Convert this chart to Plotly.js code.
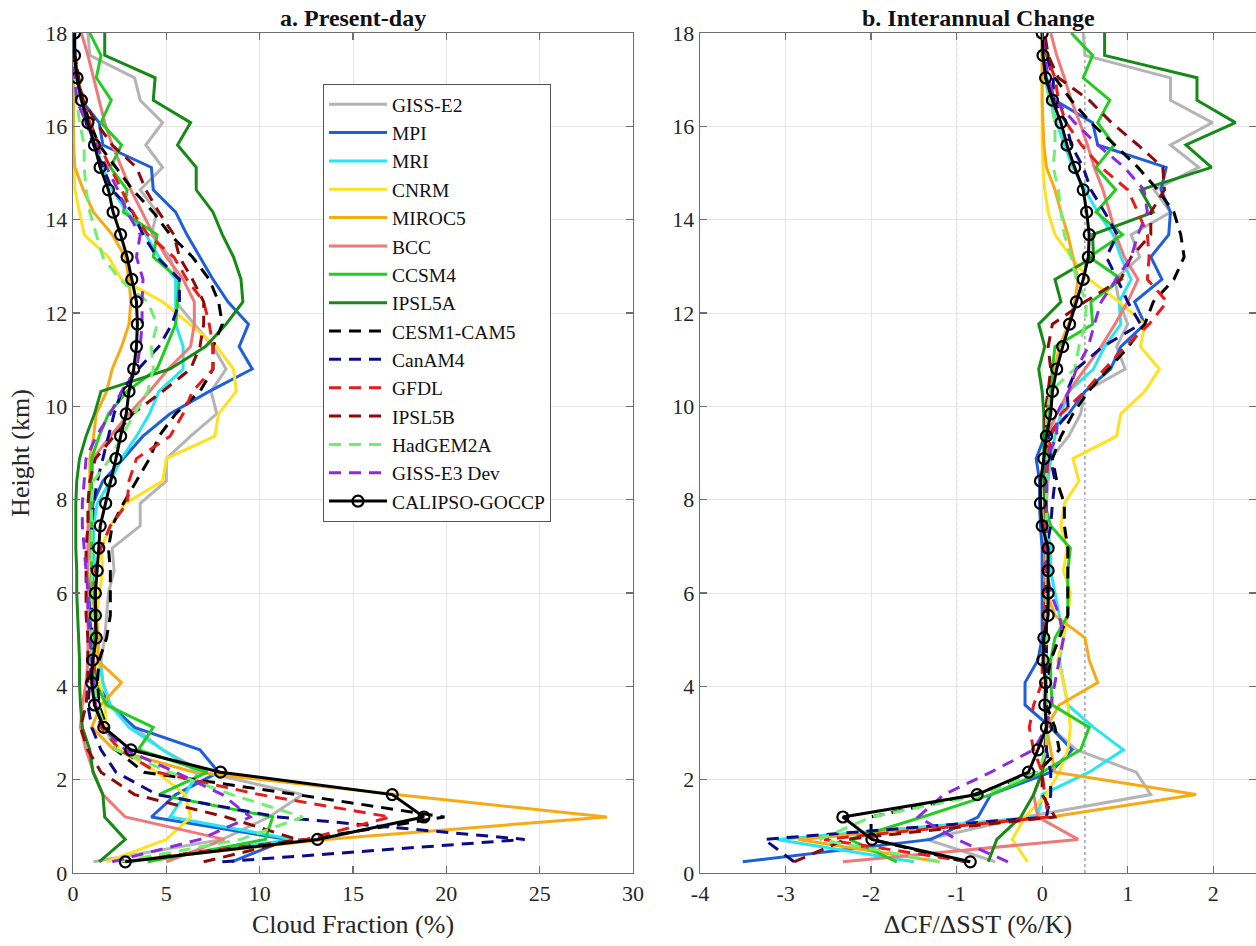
<!DOCTYPE html>
<html>
<head>
<meta charset="utf-8">
<script src="https://cdn.plot.ly/plotly-3.0.1.min.js"></script>
<style>
html,body{margin:0;padding:0;background:#fff;}
#chart{width:1256px;height:946px;}
</style>
</head>
<body>
<div id="chart"></div>
<script>
// ---------------- DATA ----------------
const heightKm = [0.24,0.72,1.2,1.68,2.16,2.64,3.12,3.6,4.08,4.56,5.04,5.52,6.0,6.48,6.96,7.44,7.92,8.4,8.88,9.36,9.84,10.32,10.8,11.28,11.76,12.24,12.72,13.2,13.68,14.16,14.64,15.12,15.6,16.08,16.56,17.04,17.52,18.0];

const seriesNames = ["GISS-E2","MPI","MRI","CNRM","MIROC5","BCC","CCSM4","IPSL5A","CESM1-CAM5","CanAM4","GFDL","IPSL5B","HadGEM2A","GISS-E3 Dev","CALIPSO-GOCCP"];

// tick values / labels
const yTickVals = [0,2,4,6,8,10,12,14,16,18];
const yTickText = ["0","2","4","6","8","10","12","14","16","18"];
const xaTickVals = [0,5,10,15,20,25,30];
const xaTickText = ["0","5","10","15","20","25","30"];
const xbTickVals = [-4,-3,-2,-1,0,1,2];
const xbTickText = ["-4","-3","-2","-1","0","1","2"];

// Panel a: cloud fraction (%)
const cfGISSE2  = [1.1,8.0,10.5,12.3,7.0,4.8,3.3,2.0,1.6,1.5,1.7,1.8,1.9,2.2,2.1,3.6,3.6,5.0,5.0,6.3,7.7,7.4,8.2,7.5,6.5,5.5,5.6,5.2,4.2,4.5,3.6,4.8,3.9,4.8,3.6,3.3,0.9,0.8];
const cfMPI     = [8.5,11.5,4.2,5.5,7.8,6.8,3.3,2.0,1.25,1.1,1.0,0.9,0.9,1.0,1.0,1.0,1.07,1.6,2.7,3.75,5.2,7.3,9.6,8.9,9.4,8.3,7.5,6.8,6.1,5.5,4.3,4.2,1.6,1.4,0.45,0.2,0.1,0.1];
const cfMRI     = [3.0,11.8,5.2,6.0,6.7,4.8,3.0,2.0,1.6,1.4,1.2,1.2,1.2,1.2,1.1,1.1,1.3,2.0,2.6,3.4,4.1,4.6,5.9,5.9,5.5,5.5,5.5,4.6,3.9,2.9,2.1,1.6,1.2,0.8,0.45,0.2,0.1,0.05];
const cfCNRM    = [1.8,5.0,6.3,6.0,4.5,2.5,1.8,1.7,1.4,1.3,1.3,1.3,1.4,1.6,1.5,2.0,2.8,4.8,5.0,7.6,7.8,8.75,8.6,7.7,6.25,4.8,2.6,1.9,0.6,0.35,0.1,0.05,0.03,0.02,0.02,0.02,0.02,0.02];
const cfMIROC5  = [2.5,13.5,28.6,17.3,6.5,2.2,1.0,1.5,2.6,1.3,1.4,1.2,1.0,1.0,0.9,0.9,0.9,0.9,0.9,1.1,1.25,1.8,2.1,2.6,3.0,3.1,3.0,2.8,2.1,1.1,0.55,0.1,0.02,0.02,0.02,0.02,0.02,0.02];
const cfBCC     = [5.0,8.1,2.8,1.6,1.1,0.7,0.4,0.5,0.7,0.8,0.8,0.8,0.8,0.8,0.8,0.8,0.9,1.0,1.07,2.0,3.0,4.1,5.1,6.3,6.5,6.5,5.9,5.0,4.3,3.7,3.1,2.6,2.1,1.7,1.4,1.07,0.8,0.45];
const cfCCSM4   = [4.0,10.3,10.7,4.6,7.2,3.5,4.3,1.8,1.2,1.0,1.1,1.3,1.1,1.0,1.0,1.0,1.0,1.0,1.0,1.4,1.9,2.9,4.5,5.0,5.5,5.6,5.7,4.3,4.5,2.7,2.9,2.0,2.6,1.5,2.05,1.25,1.5,0.9];
const cfIPSL5A  = [1.4,2.8,1.7,1.6,1.07,0.9,0.5,0.4,0.35,0.35,0.3,0.25,0.2,0.2,0.15,0.15,0.15,0.2,0.35,0.7,1.15,1.5,5.2,7.1,8.2,9.1,9.0,8.6,8.0,7.5,6.6,6.6,5.6,6.3,4.3,4.4,1.7,1.7];
const cfCESM1   = [2.5,12.5,19.9,12.0,3.8,2.3,1.8,1.4,1.3,1.4,1.8,2.0,2.0,2.0,1.9,2.1,2.7,3.4,4.1,4.6,5.5,6.8,7.5,7.5,8.0,7.8,7.3,6.4,5.2,4.3,3.2,2.3,1.4,0.9,0.5,0.3,0.1,0.05];
const cfCanAM4  = [8.0,24.2,11.0,4.5,2.3,1.5,1.0,0.8,0.9,1.0,1.0,1.0,1.0,1.0,1.0,1.0,1.1,1.3,1.6,1.9,2.2,2.6,3.5,4.6,5.3,5.7,5.7,4.5,3.75,3.2,2.1,1.6,1.1,0.7,0.5,0.2,0.1,0.05];
const cfGFDL    = [2.5,12.5,17.0,10.0,4.5,2.5,1.5,1.2,1.1,1.1,1.2,1.2,1.2,1.2,1.5,2.0,2.9,3.0,3.4,5.2,5.9,6.4,7.5,7.5,7.3,7.0,6.1,5.4,4.0,3.2,2.6,2.0,1.4,0.9,0.5,0.25,0.1,0.05];
const cfIPSL5B  = [7.0,12.0,8.2,3.3,1.5,0.8,0.4,0.7,0.8,0.8,0.8,0.7,0.7,0.7,0.7,0.8,0.8,0.9,1.2,2.2,3.2,4.8,6.3,6.8,7.0,7.0,6.4,5.7,5.4,4.6,3.9,3.4,2.1,1.25,0.55,0.3,0.1,0.05];
const cfHadGEM2A= [2.5,9.0,12.3,8.5,5.2,2.3,1.7,1.3,1.1,1.0,1.0,1.0,1.0,1.0,1.0,1.0,1.0,1.1,2.0,2.6,3.3,4.0,4.3,4.2,4.5,4.0,2.5,1.6,1.25,0.9,0.7,0.6,0.6,0.35,0.2,0.05,0.05,0.05];
const cfGISSE3  = [2.1,6.8,9.5,8.0,5.5,2.8,1.6,1.2,1.1,1.0,0.9,0.8,0.8,0.7,0.6,0.5,0.5,0.6,0.7,1.25,2.0,2.6,3.4,3.6,3.7,3.7,3.75,3.4,3.6,2.9,2.4,1.8,1.25,0.7,0.2,0.1,0.05,0.05];
const cfCALIPSO = [2.8,13.1,18.8,17.1,7.9,3.1,1.65,1.15,1.0,1.05,1.25,1.2,1.2,1.3,1.38,1.46,1.75,2.0,2.3,2.55,2.85,3.0,3.25,3.4,3.45,3.4,3.15,2.9,2.55,2.15,1.9,1.45,1.15,0.8,0.45,0.22,0.08,0.08];

// Panel b: dCF/dSST (%/K)
const dGISSE2  = [-0.55,-1.35,-0.2,1.27,1.1,0.4,0.1,0.05,0.05,0.05,0.05,0.05,0.05,0.05,0.05,0.05,0.05,0.07,0.1,0.31,0.45,0.5,0.97,0.87,1.0,0.9,0.85,1.14,1.04,1.5,1.31,1.83,1.5,1.99,1.5,1.5,0.5,0.48];
const dMPI     = [-3.5,-1.3,-0.75,-0.6,0.1,0.35,0.1,-0.2,-0.2,-0.05,0.0,0.0,0.0,0.0,0.0,-0.02,-0.03,-0.03,-0.07,0.03,0.31,0.5,0.8,0.92,1.2,1.08,1.4,1.27,1.48,1.5,1.39,1.45,0.65,0.59,0.15,0.05,0.0,0.0];
const dMRI     = [-1.5,-3.1,-0.05,0.0,0.55,0.95,0.6,0.3,0.25,0.2,0.25,0.2,0.15,0.1,0.1,0.05,0.03,0.05,0.1,0.15,0.22,0.31,0.6,0.73,0.92,0.9,1.04,0.92,0.83,0.65,0.5,0.36,0.26,0.17,0.09,0.03,0.01,0.0];
const dCNRM    = [-0.17,-0.35,-0.2,0.05,0.2,0.3,0.33,0.3,0.25,0.18,0.25,0.3,0.33,0.25,0.29,0.22,0.26,0.43,0.36,0.87,0.92,1.2,1.37,1.15,1.2,0.9,0.55,0.34,0.15,0.07,0.03,0.01,0.0,0.0,0.0,0.0,0.0,0.0];
const dMIROC5  = [-1.2,-2.85,0.1,1.8,0.15,0.1,0.05,0.2,0.65,0.55,0.5,0.15,0.05,0.05,0.05,0.05,0.05,0.05,0.05,0.05,0.05,0.1,0.15,0.2,0.31,0.38,0.42,0.36,0.3,0.22,0.15,0.05,0.02,0.01,0.0,0.0,0.0,0.0];
const dBCC     = [-2.33,0.42,-0.05,-0.1,0.0,0.05,0.05,0.05,0.05,0.03,0.03,0.03,0.03,0.03,0.03,0.03,0.03,0.03,0.03,0.05,0.17,0.31,0.5,0.69,0.85,1.0,1.12,0.96,0.86,0.79,0.71,0.61,0.53,0.44,0.34,0.26,0.17,0.1];
const dCCSM4   = [-1.7,-2.25,-1.4,-0.6,0.0,0.45,0.55,0.12,0.1,0.1,0.15,0.3,0.3,0.3,0.33,0.1,0.03,0.05,0.05,0.05,0.08,0.1,0.12,0.15,0.59,0.57,0.93,0.55,0.94,0.63,0.86,0.63,0.84,0.65,0.79,0.48,0.59,0.34];
const dIPSL5A  = [-0.63,-0.53,-0.25,-0.1,0.0,0.05,0.05,0.05,0.05,0.05,0.05,0.05,0.05,0.05,0.05,0.05,0.03,0.02,0.02,0.02,0.02,0.0,-0.04,0.03,-0.04,0.22,0.15,0.6,0.59,1.3,1.15,1.98,1.68,2.26,1.81,1.81,0.73,0.73];
const dCESM1   = [-0.9,-2.0,-2.0,-0.8,-0.05,0.2,0.15,0.05,0.05,0.1,0.2,0.3,0.3,0.3,0.3,0.26,0.26,0.17,0.12,0.22,0.36,0.54,0.78,1.01,1.2,1.3,1.54,1.66,1.62,1.54,1.35,1.12,0.85,0.57,0.34,0.15,0.05,0.0];
const dCanAM4  = [-2.9,-3.25,0.05,0.1,0.1,0.05,0.05,0.05,0.05,0.05,0.05,0.05,0.05,0.05,0.05,0.1,0.12,0.15,0.1,0.07,0.31,0.29,0.4,0.71,1.15,1.0,0.88,0.75,0.88,0.73,0.57,0.48,0.34,0.28,0.13,0.13,0.05,0.0];
const dGFDL    = [-0.85,-2.55,0.07,0.03,0.0,-0.1,-0.15,-0.1,0.0,0.0,0.02,0.03,0.03,0.03,0.03,0.03,0.05,0.05,0.07,0.1,0.22,0.5,0.73,0.97,1.25,1.46,1.23,1.25,1.23,1.12,1.0,0.69,0.46,0.28,0.19,0.15,0.05,0.0];
const dIPSL5B  = [-2.9,-2.3,0.15,0.0,0.0,0.03,0.05,0.05,0.05,0.05,0.05,0.05,0.05,0.05,0.05,0.05,0.05,0.05,0.05,0.05,0.03,0.07,0.1,0.07,0.12,0.5,0.92,1.04,1.27,1.27,1.43,1.41,1.12,0.81,0.55,0.19,0.07,0.03];
const dHadGEM2A= [-1.2,-2.6,-2.0,-0.7,-0.05,0.05,0.05,0.05,0.05,0.05,0.05,0.05,0.05,0.05,0.05,0.05,0.05,0.05,0.05,0.05,0.05,0.1,0.38,0.43,0.5,0.52,0.4,0.34,0.26,0.22,0.19,0.13,0.15,0.15,0.09,0.03,0.02,0.0];
const dGISSE3  = [-0.4,-1.0,-1.45,-1.15,-0.6,-0.1,0.05,0.1,0.15,0.2,0.25,0.2,0.1,0.05,0.05,0.05,0.05,0.05,0.05,0.17,0.17,0.31,0.4,0.54,0.61,0.69,0.87,1.04,1.12,1.23,1.19,0.96,0.65,0.38,0.15,0.07,0.03,0.0];
const dCALIPSO = [-0.84,-1.99,-2.33,-0.76,-0.16,-0.05,0.05,0.03,0.04,0.01,0.02,0.07,0.07,0.07,0.07,0.0,-0.02,-0.02,0.02,0.05,0.1,0.12,0.17,0.24,0.32,0.4,0.48,0.54,0.55,0.52,0.48,0.38,0.29,0.22,0.12,0.04,0.01,0.0];

const refLinesB = [-1, 0.5];

// ---------------- STYLE ----------------
const panelA = [cfGISSE2,cfMPI,cfMRI,cfCNRM,cfMIROC5,cfBCC,cfCCSM4,cfIPSL5A,cfCESM1,cfCanAM4,cfGFDL,cfIPSL5B,cfHadGEM2A,cfGISSE3,cfCALIPSO];
const panelB = [dGISSE2,dMPI,dMRI,dCNRM,dMIROC5,dBCC,dCCSM4,dIPSL5A,dCESM1,dCanAM4,dGFDL,dIPSL5B,dHadGEM2A,dGISSE3,dCALIPSO];
const lineColors = ["#b4b4b4","#1e5fdc","#28e6f0","#ffe11e","#f7aa14","#f07878","#22cc22","#168a16","#000000","#0c0c88","#e81a1a","#8c0a0a","#70ee70","#8a2be2","#000000"];
const lineDash = ["solid","solid","solid","solid","solid","solid","solid","solid","12px,8px","12px,8px","12px,8px","12px,8px","12px,8px","12px,8px","solid"];

const serif = "Liberation Serif, Times New Roman, serif";
const traces = [];
function addPanel(vals, xa, ya, legend){
  vals.forEach((arr, i) => {
    const isObs = i === seriesNames.length - 1;
    const tr = {
      type: "scatter",
      x: arr, y: heightKm,
      xaxis: xa, yaxis: ya,
      name: seriesNames[i],
      legendgroup: seriesNames[i],
      showlegend: legend,
      mode: isObs ? "lines+markers" : "lines",
      line: {color: lineColors[i], width: 3, dash: lineDash[i]}
    };
    if (isObs) tr.marker = {symbol: "circle-open", size: 11, color: "#000", line: {width: 2.2, color: "#000"}};
    traces.push(tr);
  });
}
addPanel(panelA, "x", "y", true);
addPanel(panelB, "x2", "y2", false);

const axCommon = {
  showline: true, linecolor: "#6e6e6e", linewidth: 1.3, mirror: "ticks",
  ticks: "inside", ticklen: 7, tickcolor: "#6e6e6e", tickwidth: 1.2,
  showgrid: true, gridcolor: "#e6e6e6", gridwidth: 1, zeroline: false,
  tickmode: "array",
  tickfont: {family: serif, size: 22, color: "#262626"}
};
const titleFont = {family: serif, size: 26, color: "#262626"};

const layout = {
  width: 1256, height: 946,
  margin: {l: 0, r: 0, t: 0, b: 0},
  paper_bgcolor: "#fff", plot_bgcolor: "#fff",
  showlegend: true,
  xaxis: Object.assign({}, axCommon, {domain: [73/1256, 633/1256], range: [0, 30], tickvals: xaTickVals, ticktext: xaTickText,
    title: {text: "Cloud Fraction (%)", font: titleFont, standoff: 10}}),
  yaxis: Object.assign({}, axCommon, {domain: [73/946, 913/946], range: [0, 18], tickvals: yTickVals, ticktext: yTickText, anchor: "x",
    title: {text: "Height (km)", font: titleFont, standoff: 8}}),
  xaxis2: Object.assign({}, axCommon, {domain: [700/1256, 1], range: [-4, 2.5], tickvals: xbTickVals, ticktext: xbTickText, anchor: "y2",
    title: {text: "\u0394CF/\u0394SST (%/K)", font: titleFont, standoff: 10}}),
  yaxis2: Object.assign({}, axCommon, {domain: [73/946, 913/946], range: [0, 18], tickvals: yTickVals, ticktext: yTickText, anchor: "x2"}),
  legend: {
    x: 323/1256, y: 862/946, xanchor: "left", yanchor: "top",
    bgcolor: "#ffffff", bordercolor: "#555", borderwidth: 1,
    font: {family: serif, size: 19.5, color: "#111"},
    itemwidth: 58, tracegroupgap: 0
  },
  shapes: refLinesB.map(v => ({type: "line", xref: "x2", yref: "y2", x0: v, x1: v, y0: 0, y1: 18,
    line: {color: "#777", width: 1, dash: "dot"}, layer: "below"})),
  annotations: [
    {text: "<b>a. Present-day</b>", xref: "paper", yref: "paper", x: 353/1256, y: 914/946, xanchor: "center", yanchor: "bottom", showarrow: false,
     borderpad: 0, font: {family: serif, size: 24, color: "#111"}},
    {text: "<b>b. Interannual Change</b>", xref: "paper", yref: "paper", x: 978/1256, y: 914/946, xanchor: "center", yanchor: "bottom", showarrow: false,
     borderpad: 0, font: {family: serif, size: 24, color: "#111"}}
  ]
};

Plotly.newPlot("chart", traces, layout, {displayModeBar: false, staticPlot: true});
</script>
</body>
</html>
